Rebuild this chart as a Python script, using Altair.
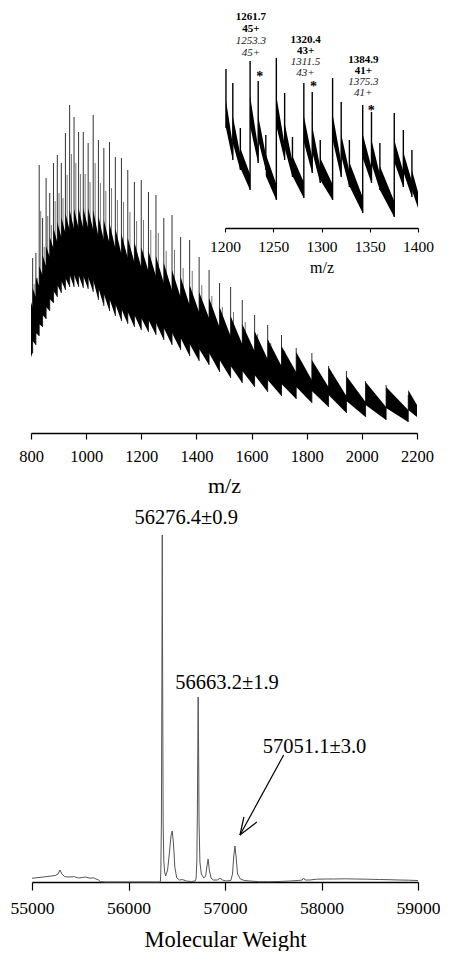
import altair as alt
import pandas as pd

FONT = "Liberation Serif"

# ---------------- ESI spectrum (top) ----------------
charge_states = list(range(70, 25, -1))
m1_mz = [806.0, 817.7, 829.7, 842.0, 854.8, 867.9, 881.5, 895.4, 909.9, 924.8,
         940.2, 956.1, 972.6, 989.6, 1007.3, 1025.6, 1044.5, 1064.2, 1084.7, 1105.9,
         1128.0, 1151.0, 1175.0, 1199.9, 1226.0, 1253.2, 1281.7, 1311.5, 1342.7, 1375.4,
         1409.8, 1445.9, 1483.9, 1524.0, 1566.3, 1611.0, 1658.4, 1708.6, 1761.9, 1818.7,
         1879.3, 1944.1, 2013.5, 2088.0, 2168.3]
m2_mz = [811.5, 823.3, 835.3, 847.8, 860.6, 873.9, 887.5, 901.6, 916.1, 931.1,
         946.6, 962.6, 979.2, 996.4, 1014.1, 1032.6, 1051.7, 1071.5, 1092.1, 1113.5,
         1135.7, 1158.9, 1183.0, 1208.1, 1234.4, 1261.8, 1290.4, 1320.4, 1351.8, 1384.8,
         1419.4, 1455.7, 1494.0, 1534.4, 1577.0, 1622.0, 1669.7, 1720.2, 1774.0, 1831.2,
         1892.2, 1957.4, 2027.3, 2102.3, 2183.1]
m1_top = [175, 180, 268, 215, 255, 240, 270, 278, 270, 300,
          328, 316, 301, 301, 290, 318, 293, 285, 291, 276,
          275, 263, 251, 253, 241, 238, 215, 218, 196, 193,
          176, 163, 150, 146, 133, 118, 108, 98, 85, 80,
          67, 62, 52, 48, 38]
m2_top = [149, 155, 222, 186, 217, 208, 232, 240, 235, 258,
          279, 270, 259, 259, 251, 270, 250, 242, 245, 233,
          231, 221, 212, 213, 203, 200, 182, 183, 165, 162,
          148, 137, 126, 121, 111, 99, 90, 82, 71, 67,
          56, 51, 42, 39, 31]
band_lo = [80, 88, 97, 106, 114, 122, 130, 136, 140, 143,
           146, 146, 146, 145, 144, 141, 133, 127, 122, 117,
           112, 109, 106, 103, 101, 98, 93, 88, 83, 77,
           72, 68, 61, 55, 50, 46, 41, 37, 34, 30,
           26, 20, 16, 13, 11]
band_w = [55, 58, 60, 62, 63, 64, 65, 65, 66, 67,
          67, 68, 69, 70, 71, 72, 74, 76, 78, 78,
          77, 76, 75, 73, 71, 69, 67, 65, 63, 61,
          59, 57, 55, 52, 49, 46, 43, 40, 37, 33,
          30, 27, 25, 23, 22]
band_start = [800, 76, 55]
band_end = [2200, 16, 22]
main_ticks = [800, 1000, 1200, 1400, 1600, 1800, 2000, 2200]

# ---------------- inset ----------------
inset_mz = [1201.0, 1208.1, 1215.9, 1226.0, 1234.4, 1242.3, 1253.2, 1261.8, 1269.9,
            1281.7, 1290.4, 1298.7, 1311.5, 1320.4, 1328.9, 1342.7, 1351.8, 1360.5,
            1375.4, 1384.8, 1393.7]
inset_top = [159, 145, 100, 167, 147, 93, 170, 135, 91, 145, 136, 88,
             150, 126, 88, 123, 116, 85, 115, 98, 78]
inset_hi_s = [128, 112, 80, 132, 112, 74, 132, 105, 72, 112, 102, 70,
              114, 94, 66, 94, 88, 62, 88, 76, 58]
inset_lo_s = [100, 85, 60, 102, 88, 52, 102, 80, 52, 86, 76, 48,
              88, 72, 42, 70, 64, 38, 66, 56, 38]
inset_valley = [68, 58, 38, 65, 58, 28, 68, 51, 30, 55, 45, 28,
                51, 41, 15, 45, 38, 11, 41, 31, 20]
inset_ticks = [1200, 1250, 1300, 1350, 1400]
lab_mz = [1226.8, 1283.5, 1343.3]
lab_mass = ["1261.7", "1320.4", "1384.9"]
lab_alt = ["1253.3", "1311.5", "1375.3"]
lab_z = ["45+", "43+", "41+"]
lab_h1 = [211, 188, 168]
lab_h2 = [199, 177, 157]
lab_h3 = [187, 166, 146]
lab_h4 = [175, 155, 135]
star_mz = [1236.1, 1291.8, 1351.5]
star_h = [155, 145, 121]

# ---------------- deconvoluted spectrum (bottom) ----------------
mw_x = [55000, 55040, 55120, 55200, 55240, 55270, 55289, 55310, 55340, 55380,
        55440, 55480, 55520, 55557, 55600, 55640, 55663, 55690, 55711, 55760,
        55900, 56100, 56300, 56330, 56335, 56341, 56346, 56350, 56354, 56359,
        56366, 56375, 56385, 56405, 56425, 56440, 56453, 56465, 56480, 56500,
        56530, 56557, 56600, 56650, 56690, 56700, 56708, 56714, 56719, 56722,
        56726, 56731, 56740, 56755, 56780, 56800, 56812, 56825, 56838, 56855,
        56880, 56920, 56948, 56975, 57010, 57060, 57078, 57090, 57103, 57115,
        57130, 57160, 57200, 57260, 57350, 57460, 57560, 57670, 57760, 57800,
        57814, 57830, 57876, 57950, 58050, 58124, 58250, 58350, 58464, 58600,
        58700, 58804, 58900, 59000]
mw_y = [3.7, 4.2, 5, 6, 6.5, 8, 12, 8, 5.3, 5,
        5.3, 4, 4.5, 5, 3.8, 4.2, 3, 2, 0.3, 0,
        0, 0, 0, 0, 10, 60, 200, 347, 200, 60,
        20, 10, 6, 12, 30, 46, 51, 40, 15, 4,
        2, 2.5, 1, 0.5, 1, 3, 20, 70, 150, 185,
        140, 60, 20, 8, 4, 6, 15, 23, 12, 4,
        2, 2, 3.7, 2, 1, 1.5, 8, 25, 36, 25,
        8, 3, 1.5, 1, 0.3, 0.3, 0.5, 1, 1.5, 2,
        4, 2, 2, 2.8, 3, 3, 3.2, 3, 2.8, 2.5,
        2.3, 2, 1.8, 1.5]
mw_ticks = [55000, 56000, 57000, 58000, 59000]
peak_text = ["56276.4\u00b10.9", "56663.2\u00b11.9", "57051.1\u00b13.0"]
peak_text_x = [56598, 57021, 57928]
peak_text_y = [364, 199, 135]
arrow_x1 = [57608, 57155, 57155]
arrow_y1 = [127, 47, 47]
arrow_x2 = [57155, 57196, 57330]
arrow_y2 = [47, 65, 60]

# ---------------- tables ----------------
n = len(m1_mz)
rows = [dict(mz=band_start[0], lo=band_start[1], hi=band_start[1] + band_start[2]),
        dict(mz=m1_mz[0] - 0.15, lo=band_lo[0], hi=band_lo[0] + band_w[0] - 10)]
for i in range(n):
    rows.append(dict(mz=m1_mz[i], lo=band_lo[i] + 12, hi=band_lo[i] + band_w[i] + 10))
    if i + 1 < n:
        rows.append(dict(mz=m1_mz[i + 1] - 0.15, lo=band_lo[i + 1],
                         hi=band_lo[i + 1] + band_w[i + 1] - 10))
    else:
        rows.append(dict(mz=band_end[0], lo=band_end[1], hi=band_end[1] + band_end[2] - 10))
df_band = pd.DataFrame(rows)
df_s1 = pd.DataFrame({"mz": m1_mz, "top": m1_top, "base": band_lo})
df_s2 = pd.DataFrame({"mz": m2_mz, "top": m2_top, "base": [b + 12 for b in band_lo]})

k = len(inset_mz)
irows = []
for i in range(k):
    irows.append(dict(mz=inset_mz[i], lo=inset_lo_s[i], hi=inset_hi_s[i]))
    end_x = inset_mz[i + 1] - 0.1 if i + 1 < k else 1400
    irows.append(dict(mz=end_x, lo=inset_valley[i], hi=inset_valley[i] + 16))
df_iband = pd.DataFrame(irows)
df_ispk = pd.DataFrame({"mz": inset_mz, "top": inset_top,
                        "base": [inset_lo_s[0]] + inset_valley[:-1]})
df_bold = pd.DataFrame({"mz": lab_mz * 2, "h": lab_h1 + lab_h2, "t": lab_mass + lab_z})
df_ital = pd.DataFrame({"mz": lab_mz * 2, "h": lab_h3 + lab_h4, "t": lab_alt + lab_z})
df_star = pd.DataFrame({"mz": star_mz, "h": star_h, "t": ["*"] * 3})

df_mw = pd.DataFrame({"mw": mw_x, "inten": mw_y})
df_pt = pd.DataFrame({"mw": peak_text_x, "inten": peak_text_y, "t": peak_text})
df_ar = pd.DataFrame({"x1": arrow_x1, "y1": arrow_y1, "x2": arrow_x2, "y2": arrow_y2})

# ---------------- scales ----------------
main_x = alt.Scale(domain=[800, 2200])
main_y = alt.Scale(domain=[0, 425])
ins_x = alt.Scale(domain=[1200, 1400], range=[194, 387])
ins_y = alt.Scale(domain=[0, 220], range=[220, 0])

main_axis = alt.Axis(values=main_ticks, format="d", title="m/z", orient="bottom",
                     domainColor="black", domainWidth=1.5, tickColor="black",
                     tickSize=6, tickWidth=1.2, labelFont=FONT, labelFontSize=16.5,
                     labelColor="black", labelPadding=9, labelFlush=False,
                     labelOverlap=False, titleFont=FONT,
                     titleFontSize=22, titleFontWeight="normal", titleColor="black",
                     titlePadding=11, grid=False)
inset_axis = alt.Axis(values=inset_ticks, format="d", title="m/z", orient="bottom",
                      offset=-205, domainColor="black", domainWidth=1.3,
                      tickColor="black", tickSize=4, tickWidth=1.1, labelFont=FONT,
                      labelFontSize=15.5, labelColor="black", labelPadding=7,
                      labelFlush=False, labelOverlap=False,
                      titleFont=FONT, titleFontSize=16, titleFontWeight="normal",
                      titleColor="black", titlePadding=5, grid=False)

band = alt.Chart(df_band).mark_area(color="black", interpolate="linear").encode(
    x=alt.X("mz:Q", scale=main_x, axis=main_axis),
    y=alt.Y("hi:Q", scale=main_y, axis=None),
    y2="lo:Q")
spk1 = alt.Chart(df_s1).mark_rule(color="#333333", strokeWidth=1).encode(
    x=alt.X("mz:Q", scale=main_x), y=alt.Y("top:Q", scale=main_y, axis=None), y2="base:Q")
spk2 = alt.Chart(df_s2).mark_rule(color="#777777", strokeWidth=1).encode(
    x=alt.X("mz:Q", scale=main_x), y=alt.Y("top:Q", scale=main_y, axis=None), y2="base:Q")
main = alt.layer(spk2, spk1, band)

iband = alt.Chart(df_iband).mark_area(color="black", interpolate="linear").encode(
    x=alt.X("mz:Q", scale=ins_x, axis=inset_axis),
    y=alt.Y("hi:Q", scale=ins_y, axis=None),
    y2="lo:Q")
ispk = alt.Chart(df_ispk).mark_rule(color="black", strokeWidth=1.4).encode(
    x=alt.X("mz:Q", scale=ins_x), y=alt.Y("top:Q", scale=ins_y, axis=None), y2="base:Q")
tbold = alt.Chart(df_bold).mark_text(font=FONT, fontSize=11, fontWeight="bold",
                                     color="black", align="center", baseline="middle").encode(
    x=alt.X("mz:Q", scale=ins_x), y=alt.Y("h:Q", scale=ins_y, axis=None), text="t:N")
tital = alt.Chart(df_ital).mark_text(font=FONT, fontSize=11, fontStyle="italic",
                                     color="#222222", align="center", baseline="middle").encode(
    x=alt.X("mz:Q", scale=ins_x), y=alt.Y("h:Q", scale=ins_y, axis=None), text="t:N")
tstar = alt.Chart(df_star).mark_text(font=FONT, fontSize=14, fontWeight="bold",
                                     color="black", align="center", baseline="middle",
                                     dy=4).encode(
    x=alt.X("mz:Q", scale=ins_x), y=alt.Y("h:Q", scale=ins_y, axis=None), text="t:N")
inset = alt.layer(ispk, iband, tbold, tital, tstar)

top = alt.layer(main, inset).resolve_scale(x="independent", y="independent").properties(
    width=386, height=425)

# bottom
bx = alt.Scale(domain=[55000, 59000], range=[1, 387])
by = alt.Scale(domain=[0, 382])
bot_axis = alt.Axis(values=mw_ticks, format="d", title="Molecular Weight",
                    domainColor="black", domainWidth=1.5, tickColor="black",
                    tickSize=8, tickWidth=1.2, labelFont=FONT, labelFontSize=17.6,
                    labelColor="black", labelPadding=9.5, labelFlush=False,
                    labelOverlap=False, titleFont=FONT,
                    titleFontSize=22.5, titleFontWeight="normal", titleColor="black",
                    titlePadding=11, grid=False)
mwline = alt.Chart(df_mw).mark_line(color="#555555", strokeWidth=1).encode(
    x=alt.X("mw:Q", scale=bx, axis=bot_axis),
    y=alt.Y("inten:Q", scale=by, axis=None))
ptext = alt.Chart(df_pt).mark_text(font=FONT, fontSize=20.5, color="black",
                                   align="center", baseline="middle").encode(
    x=alt.X("mw:Q", scale=bx), y=alt.Y("inten:Q", scale=by), text="t:N")
arrow = alt.Chart(df_ar).mark_rule(color="black", strokeWidth=1.2).encode(
    x=alt.X("x1:Q", scale=bx), x2="x2:Q",
    y=alt.Y("y1:Q", scale=by), y2="y2:Q")
bottom = alt.layer(mwline, ptext, arrow).properties(width=387, height=382)

chart = alt.vconcat(top, bottom, spacing=3).properties(
    padding={"left": 2, "top": 0, "right": 0, "bottom": 0}
).configure_view(stroke=None).configure_axis(grid=False)

chart.save("out.html", embed_options={"renderer": "svg", "actions": False})
